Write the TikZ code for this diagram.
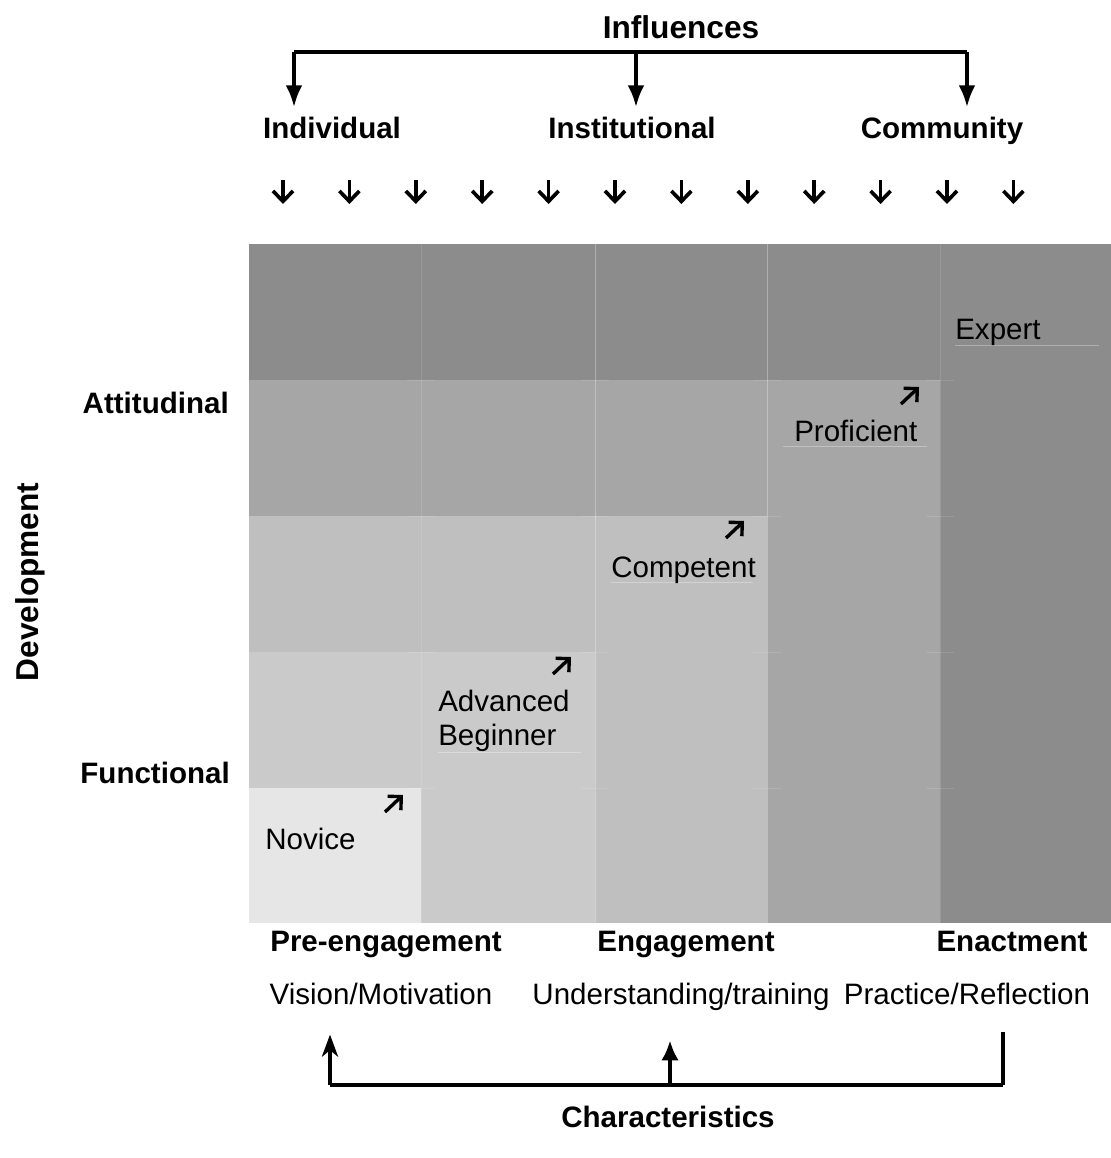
\documentclass[tikz,border=0pt]{standalone}
\usepackage{fontspec}
\setmainfont{Liberation Sans}
\usepackage{tikz}
\usetikzlibrary{arrows.meta, positioning, calc}
\definecolor{expgray}{RGB}{140,140,140}
\definecolor{progray}{RGB}{166,166,166}
\definecolor{comgray}{RGB}{191,191,191}
\definecolor{advgray}{RGB}{202,202,202}
\definecolor{novgray}{RGB}{230,230,230}
\tikzstyle{head} = [font=\fontsize{21}{25}\selectfont\bfseries, inner sep=0pt, anchor=base]
\tikzstyle{plain} = [font=\fontsize{21}{25}\selectfont, inner sep=0pt, anchor=base]
\tikzstyle{stage} = [font=\fontsize{21}{24.2}\selectfont, inner sep=0pt, anchor=base west, align=left]
\tikzstyle{bracket} = [line width=2.8pt]
\tikzstyle{drop} = [line width=2.6pt, -{Straight Barb[length=2.6mm, width=5mm]}]
\tikzstyle{rise} = [line width=2.4pt, -{Straight Barb[length=2.4mm, width=4.8mm]}]
\tikzstyle{faint} = [white, opacity=0.3, line width=0.6pt]

\begin{document}
\begin{tikzpicture}[x=0.025cm, y=-0.025cm]
\useasboundingbox (0,0) rectangle (1111,1158);
\fill[expgray] (249,244) rectangle (1111,923);
\fill[progray] (249,380) rectangle (940,923);
\fill[comgray] (249,516) rectangle (767,923);
\fill[advgray] (249,652) rectangle (595,923);
\fill[novgray] (249,788) rectangle (421,923);
\draw[faint] (595,244) -- (595,923);
\draw[faint] (767,244) -- (767,923);
\draw[faint, opacity=0.12] (421,244) -- (421,923);
\draw[faint, opacity=0.12] (940,244) -- (940,923);
\foreach \y in {380,516,652,788}
  \foreach \x in {421,595,767,940}
    \draw[faint, opacity=0.12] (\x-14,\y) -- (\x+14,\y);
\draw[faint] (955,345) -- (1099,345);
\draw[faint] (783,446) -- (927,446);
\draw[faint] (611,582) -- (753,582);
\draw[faint] (438,752) -- (581,752);

\node (infl) [head, font=\fontsize{22.5}{26}\selectfont\bfseries] at (681,38) {Influences};
\node (indiv) [head] at (332,138) {Individual};
\node (instit) [head] at (632,138) {Institutional};
\node (commun) [head] at (942,138) {Community};
\node (attit) [head, anchor=base east] at (229,413) {Attitudinal};
\node (funct) [head, anchor=base east] at (230,783) {Functional};
\node (devel) [head, font=\fontsize{22.5}{26}\selectfont\bfseries, rotate=90] at (38,582) {Development};
\node (preeng) [head] at (386,951) {Pre-engagement};
\node (eng) [head] at (686,951) {Engagement};
\node (enact) [head] at (1012,951) {Enactment};
\node (vision) [plain] at (381,1004) {Vision/Motivation};
\node (underst) [plain] at (681,1004) {Understanding/training};
\node (practice) [plain] at (967,1004) {Practice/Reflection};
\node (charac) [head] at (668,1127) {Characteristics};

\node (expert) [stage] at (955,339) {Expert};
\node (profic) [stage] at (794,441) {Proficient};
\node (compet) [stage] at (611,577) {Competent};
\node (advbeg) [stage, anchor=north west] at (438,690) {Advanced\\Beginner};
\node (novice) [stage] at (265,849) {Novice};

\coordinate (infL) at (294,52);
\coordinate (infM) at (636,52);
\coordinate (infR) at (967,52);
\draw[bracket] (infL) -- (infR);
\draw[bracket, -{Latex[length=5.5mm, width=4.2mm]}, shorten >=0.225cm] (infL) -- (infL |- indiv.north);
\draw[bracket, -{Latex[length=5.5mm, width=4.2mm]}, shorten >=0.225cm] (infM) -- (infM |- instit.north);
\draw[bracket, -{Latex[length=5.5mm, width=4.2mm]}, shorten >=0.225cm] (infR) -- (infR |- commun.north);

\foreach \i in {0,...,11}
  \draw[drop] ({283+66.4*\i},180) -- ({283+66.4*\i},204);

\draw[rise] (385,812) -- (403,795);
\draw[rise] (553,674) -- (571,657);
\draw[rise] (726,538) -- (744,521);
\draw[rise] (901,404) -- (919,387);

\coordinate (charL) at (330,1085);
\coordinate (charM) at (670,1085);
\coordinate (charR) at (1003,1085);
\draw[bracket] (charL) -- (charR);
\draw[bracket, -{Stealth[length=5.5mm, width=4mm, inset=1.6mm]}, shorten >=0.75cm] (charL) -- (charL |- vision.south);
\draw[bracket, -{Latex[length=5mm, width=4.4mm]}, shorten >=0.75cm] (charM) -- (charM |- underst.south);
\draw[bracket, shorten >=0.675cm] (charR) -- (charR |- practice.south);
\end{tikzpicture}
\end{document}
